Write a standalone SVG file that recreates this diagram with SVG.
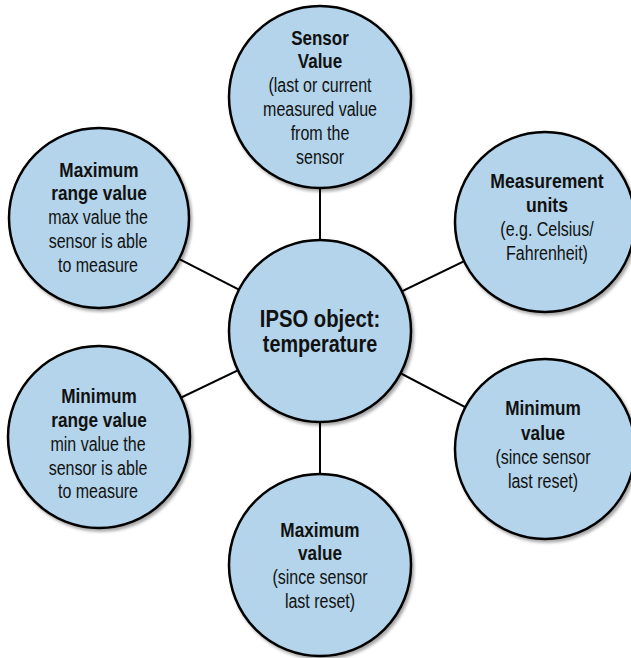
<svg xmlns="http://www.w3.org/2000/svg" width="631" height="658" viewBox="0 0 631 658">
  <defs>
    <filter id="shadow" x="-10%" y="-10%" width="125%" height="125%">
      <feDropShadow dx="2" dy="2.5" stdDeviation="1.5" flood-color="#000" flood-opacity="0.35"/>
    </filter>
  </defs>
  <style>
    .node circle { fill: #b3d4ea; stroke: #000; stroke-width: 2.5; filter: url(#shadow); }
    .links line { stroke: #000; stroke-width: 2; }
    text { font-family: "Liberation Sans", Arial, sans-serif; font-size: 20px; fill: #111; text-anchor: middle; }
    .b { font-weight: bold; }
    .c { font-size: 23px; }
  </style>
  <rect width="631" height="658" fill="#fff"/>

  <!-- spokes from the hub to each property -->
  <g class="links">
    <line x1="320" y1="331" x2="320" y2="97"/>
    <line x1="320" y1="331" x2="99" y2="218"/>
    <line x1="320" y1="331" x2="545" y2="222"/>
    <line x1="320" y1="331" x2="99" y2="437"/>
    <line x1="320" y1="331" x2="545" y2="449"/>
    <line x1="320" y1="331" x2="320" y2="565"/>
  </g>

  <!-- labels are narrowed horizontally to a condensed width -->
  <g id="sensor-value" class="node">
    <circle cx="320" cy="97" r="91"/>
    <text class="b" transform="translate(320 45) scale(0.85 1)">Sensor</text>
    <text class="b" transform="translate(320 68) scale(0.85 1)">Value</text>
    <text transform="translate(320 92) scale(0.8 1)">(last or current</text>
    <text transform="translate(320 116) scale(0.8 1)">measured value</text>
    <text transform="translate(320 140) scale(0.8 1)">from the</text>
    <text transform="translate(320 164) scale(0.8 1)">sensor</text>
  </g>

  <g id="max-range" class="node">
    <circle cx="99" cy="218" r="90"/>
    <text class="b" transform="translate(99 177) scale(0.86 1)">Maximum</text>
    <text class="b" transform="translate(99 200) scale(0.86 1)">range value</text>
    <text transform="translate(98 224) scale(0.8 1)">max value the</text>
    <text transform="translate(98 248) scale(0.8 1)">sensor is able</text>
    <text transform="translate(98 272) scale(0.8 1)">to measure</text>
  </g>

  <g id="units" class="node">
    <circle cx="545" cy="222" r="90"/>
    <text class="b" transform="translate(547 188) scale(0.88 1)">Measurement</text>
    <text class="b" transform="translate(547 212) scale(0.88 1)">units</text>
    <text transform="translate(547 236) scale(0.8 1)">(e.g. Celsius/</text>
    <text transform="translate(547 260) scale(0.8 1)">Fahrenheit)</text>
  </g>

  <g id="hub" class="node">
    <circle cx="320" cy="331" r="91"/>
    <text class="b c" transform="translate(320 327) scale(0.88 1)">IPSO object:</text>
    <text class="b c" transform="translate(320 352) scale(0.86 1)">temperature</text>
  </g>

  <g id="min-range" class="node">
    <circle cx="99" cy="437" r="91"/>
    <text class="b" transform="translate(99 403) scale(0.86 1)">Minimum</text>
    <text class="b" transform="translate(99 427) scale(0.86 1)">range value</text>
    <text transform="translate(98 451) scale(0.8 1)">min value the</text>
    <text transform="translate(98 475) scale(0.8 1)">sensor is able</text>
    <text transform="translate(98 498) scale(0.8 1)">to measure</text>
  </g>

  <g id="min-value" class="node">
    <circle cx="545" cy="449" r="90"/>
    <text class="b" transform="translate(543 415) scale(0.86 1)">Minimum</text>
    <text class="b" transform="translate(543 440) scale(0.86 1)">value</text>
    <text transform="translate(543 464) scale(0.8 1)">(since sensor</text>
    <text transform="translate(543 488) scale(0.8 1)">last reset)</text>
  </g>

  <g id="max-value" class="node">
    <circle cx="320" cy="565" r="91"/>
    <text class="b" transform="translate(320 537) scale(0.86 1)">Maximum</text>
    <text class="b" transform="translate(320 560) scale(0.86 1)">value</text>
    <text transform="translate(320 584) scale(0.8 1)">(since sensor</text>
    <text transform="translate(320 608) scale(0.8 1)">last reset)</text>
  </g>
</svg>
